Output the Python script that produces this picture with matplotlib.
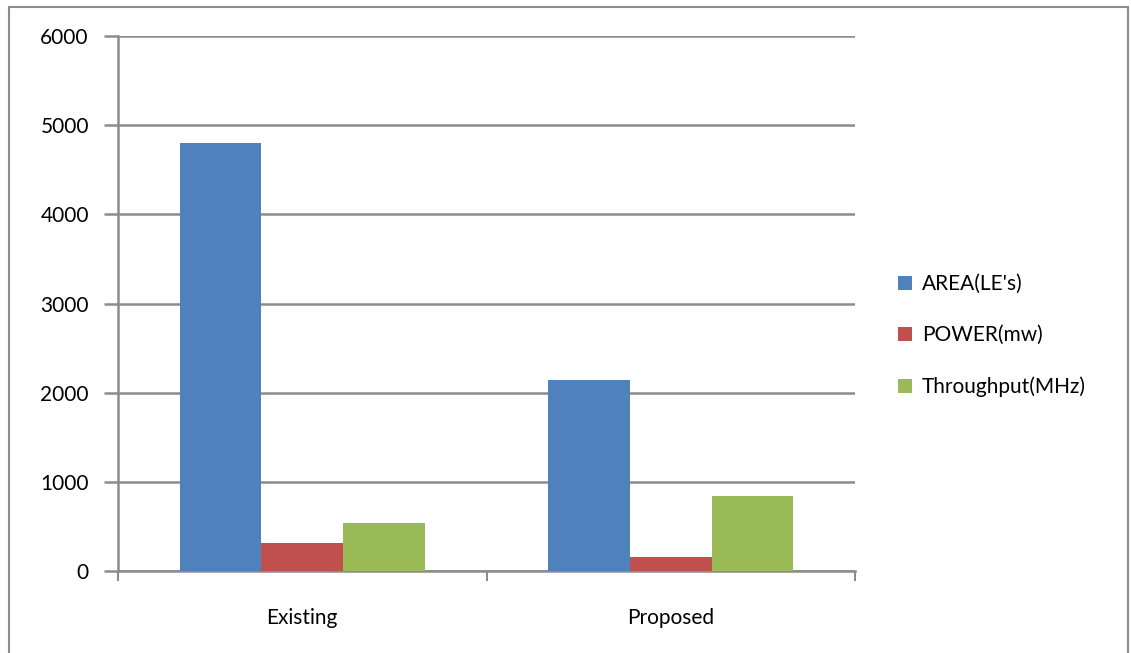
import matplotlib.pyplot as plt
import numpy as np
from matplotlib.patches import Rectangle

plt.rcParams['font.family'] = ['Lato', 'DejaVu Sans']

categories = ['Existing', 'Proposed']
series = ['AREA(LE\'s)', 'POWER(mw)', 'Throughput(MHz)']
area = [4800, 2140]
power = [315, 160]
throughput = [540, 845]
colors = ['#4F81BD', '#C0504D', '#9BBB59']

fig = plt.figure(figsize=(11.31, 6.53), dpi=100)
ax = fig.add_axes([118 / 1131, 1 - 571 / 653, 737 / 1131, 535 / 653])

# outer chart border
fig.patches.append(Rectangle((9 / 1131, -0.05), 1119 / 1131, 1.05 - 7 / 653,
                             transform=fig.transFigure, fill=False,
                             edgecolor='#8c8c8c', linewidth=1.5))

x = np.arange(len(categories))
w = 0.222
for i, (vals, name) in enumerate(zip([area, power, throughput], series)):
    ax.bar(x + (i - 1) * w, vals, width=w, color=colors[i], label=name, zorder=3)

ax.set_xlim(-0.5, 1.5)
ax.set_ylim(0, 6000)
ax.set_yticks(np.arange(0, 6001, 1000))
ax.yaxis.grid(True, color='#8c8c8c', linewidth=1.8)
ax.set_axisbelow(True)

ax.set_xticks(x)
ax.set_xticklabels(categories)
ax.set_xticks([-0.5, 0.5, 1.5], minor=True)
ax.tick_params(axis='x', which='major', length=0, pad=27, labelsize=15)
ax.tick_params(axis='x', which='minor', length=7, width=1.5, color='#8c8c8c')
ax.tick_params(axis='y', length=10, width=1.8, color='#8c8c8c', pad=11, labelsize=15)

for s in ['top', 'right']:
    ax.spines[s].set_visible(False)
for s in ['left', 'bottom']:
    ax.spines[s].set_color('#8c8c8c')
    ax.spines[s].set_linewidth(1.8)

ax.legend(loc='center left', bbox_to_anchor=(1.033, 0.44), frameon=False,
          fontsize=15, handlelength=0.65, handleheight=0.65, labelspacing=1.5,
          handletextpad=0.5)

plt.savefig('out.png', dpi=100)
